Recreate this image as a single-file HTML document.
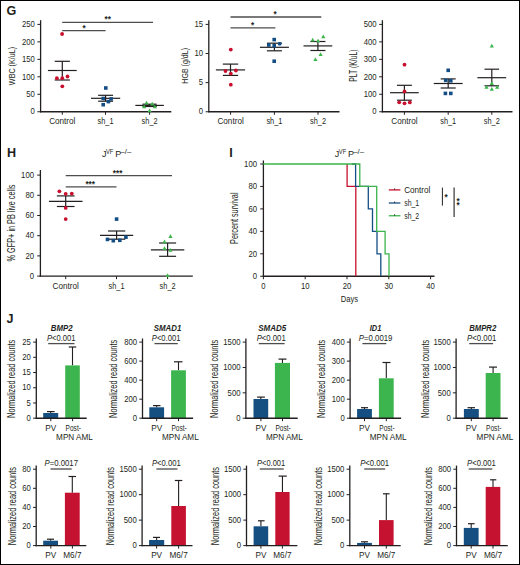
<!DOCTYPE html>
<html><head><meta charset="utf-8"><style>
html,body{margin:0;padding:0;background:#fff;}
svg{display:block;}
text{font-family:"Liberation Sans", sans-serif;fill:#231f20;}
</style></head><body>
<svg width="520" height="565" viewBox="0 0 520 565">
<rect x="0" y="0" width="520" height="565" fill="#fff"/>
<text x="6.50" y="15.10" font-size="12.6" text-anchor="start" font-weight="bold">G</text>
<line x1="40.60" y1="20.20" x2="40.60" y2="112.35" stroke="#231f20" stroke-width="1.3"/>
<line x1="37.40" y1="111.75" x2="40.60" y2="111.75" stroke="#231f20" stroke-width="1.0"/>
<text x="34.80" y="114.47" font-size="8.2" text-anchor="end" textLength="4.3" lengthAdjust="spacingAndGlyphs">0</text>
<line x1="37.40" y1="94.28" x2="40.60" y2="94.28" stroke="#231f20" stroke-width="1.0"/>
<text x="34.80" y="97.00" font-size="8.2" text-anchor="end" textLength="8.6" lengthAdjust="spacingAndGlyphs">50</text>
<line x1="37.40" y1="76.81" x2="40.60" y2="76.81" stroke="#231f20" stroke-width="1.0"/>
<text x="34.80" y="79.53" font-size="8.2" text-anchor="end" textLength="12.9" lengthAdjust="spacingAndGlyphs">100</text>
<line x1="37.40" y1="59.34" x2="40.60" y2="59.34" stroke="#231f20" stroke-width="1.0"/>
<text x="34.80" y="62.06" font-size="8.2" text-anchor="end" textLength="12.9" lengthAdjust="spacingAndGlyphs">150</text>
<line x1="37.40" y1="41.87" x2="40.60" y2="41.87" stroke="#231f20" stroke-width="1.0"/>
<text x="34.80" y="44.59" font-size="8.2" text-anchor="end" textLength="12.9" lengthAdjust="spacingAndGlyphs">200</text>
<line x1="37.40" y1="24.40" x2="40.60" y2="24.40" stroke="#231f20" stroke-width="1.0"/>
<text x="34.80" y="27.12" font-size="8.2" text-anchor="end" textLength="12.9" lengthAdjust="spacingAndGlyphs">250</text>
<line x1="40.00" y1="111.75" x2="171.30" y2="111.75" stroke="#231f20" stroke-width="1.45"/>
<line x1="62.30" y1="111.75" x2="62.30" y2="114.75" stroke="#231f20" stroke-width="1.0"/>
<line x1="105.50" y1="111.75" x2="105.50" y2="114.75" stroke="#231f20" stroke-width="1.0"/>
<line x1="149.60" y1="111.75" x2="149.60" y2="114.75" stroke="#231f20" stroke-width="1.0"/>
<text x="62.30" y="124.30" font-size="8.2" text-anchor="middle" textLength="26.3" lengthAdjust="spacingAndGlyphs">Control</text>
<text x="105.50" y="124.30" font-size="8.2" text-anchor="middle" textLength="16.0" lengthAdjust="spacingAndGlyphs">sh_1</text>
<text x="149.60" y="124.30" font-size="8.2" text-anchor="middle" textLength="16.0" lengthAdjust="spacingAndGlyphs">sh_2</text>
<text x="15.20" y="66.00" font-size="9.6" text-anchor="middle" textLength="38.3" lengthAdjust="spacingAndGlyphs" transform="rotate(-90 15.20 66.00)">WBC (K/uL)</text>
<line x1="62.20" y1="22.35" x2="153.00" y2="22.35" stroke="#4d4d4d" stroke-width="1.3"/>
<text x="107.70" y="22.10" font-size="8.2" text-anchor="middle" font-weight="bold">**</text>
<line x1="62.20" y1="30.60" x2="105.60" y2="30.60" stroke="#4d4d4d" stroke-width="1.3"/>
<text x="84.00" y="30.55" font-size="8.2" text-anchor="middle" font-weight="bold">*</text>
<line x1="47.90" y1="70.50" x2="76.70" y2="70.50" stroke="#231f20" stroke-width="1.2"/>
<line x1="54.70" y1="61.30" x2="69.90" y2="61.30" stroke="#231f20" stroke-width="1.2"/>
<line x1="54.70" y1="80.00" x2="69.90" y2="80.00" stroke="#231f20" stroke-width="1.2"/>
<line x1="62.30" y1="61.30" x2="62.30" y2="80.00" stroke="#231f20" stroke-width="1.2"/>
<circle cx="62.10" cy="34.00" r="1.9" fill="#c8102e"/>
<circle cx="56.90" cy="78.20" r="1.9" fill="#c8102e"/>
<circle cx="62.30" cy="78.20" r="1.9" fill="#c8102e"/>
<circle cx="67.50" cy="76.50" r="1.9" fill="#c8102e"/>
<circle cx="62.30" cy="86.30" r="1.9" fill="#c8102e"/>
<line x1="91.00" y1="98.30" x2="120.20" y2="98.30" stroke="#231f20" stroke-width="1.2"/>
<line x1="98.10" y1="95.30" x2="113.10" y2="95.30" stroke="#231f20" stroke-width="1.2"/>
<line x1="98.10" y1="101.20" x2="113.10" y2="101.20" stroke="#231f20" stroke-width="1.2"/>
<line x1="105.60" y1="95.30" x2="105.60" y2="101.20" stroke="#231f20" stroke-width="1.2"/>
<rect x="104.00" y="86.20" width="3.6" height="3.6" fill="#154e85"/>
<rect x="101.40" y="96.70" width="3.6" height="3.6" fill="#154e85"/>
<rect x="109.30" y="97.10" width="3.6" height="3.6" fill="#154e85"/>
<rect x="106.60" y="99.80" width="3.6" height="3.6" fill="#154e85"/>
<rect x="101.40" y="102.90" width="3.6" height="3.6" fill="#154e85"/>
<line x1="135.35" y1="105.40" x2="163.85" y2="105.40" stroke="#231f20" stroke-width="1.2"/>
<line x1="142.50" y1="104.20" x2="156.70" y2="104.20" stroke="#231f20" stroke-width="1.2"/>
<line x1="142.50" y1="106.50" x2="156.70" y2="106.50" stroke="#231f20" stroke-width="1.2"/>
<line x1="149.60" y1="104.20" x2="149.60" y2="106.50" stroke="#231f20" stroke-width="1.2"/>
<path d="M144.40 104.53L148.60 104.53L146.50 100.87Z" fill="#3cb44b"/>
<path d="M142.10 108.13L146.30 108.13L144.20 104.47Z" fill="#3cb44b"/>
<path d="M150.10 105.53L154.30 105.53L152.20 101.87Z" fill="#3cb44b"/>
<path d="M152.70 108.33L156.90 108.33L154.80 104.67Z" fill="#3cb44b"/>
<path d="M147.50 112.23L151.70 112.23L149.60 108.57Z" fill="#3cb44b"/>
<line x1="208.80" y1="20.20" x2="208.80" y2="112.35" stroke="#231f20" stroke-width="1.3"/>
<line x1="205.60" y1="111.75" x2="208.80" y2="111.75" stroke="#231f20" stroke-width="1.0"/>
<text x="203.00" y="114.47" font-size="8.2" text-anchor="end" textLength="4.3" lengthAdjust="spacingAndGlyphs">0</text>
<line x1="205.60" y1="82.63" x2="208.80" y2="82.63" stroke="#231f20" stroke-width="1.0"/>
<text x="203.00" y="85.35" font-size="8.2" text-anchor="end" textLength="4.3" lengthAdjust="spacingAndGlyphs">5</text>
<line x1="205.60" y1="53.52" x2="208.80" y2="53.52" stroke="#231f20" stroke-width="1.0"/>
<text x="203.00" y="56.24" font-size="8.2" text-anchor="end" textLength="8.6" lengthAdjust="spacingAndGlyphs">10</text>
<line x1="205.60" y1="24.40" x2="208.80" y2="24.40" stroke="#231f20" stroke-width="1.0"/>
<text x="203.00" y="27.12" font-size="8.2" text-anchor="end" textLength="8.6" lengthAdjust="spacingAndGlyphs">15</text>
<line x1="208.20" y1="111.75" x2="339.50" y2="111.75" stroke="#231f20" stroke-width="1.45"/>
<line x1="230.60" y1="111.75" x2="230.60" y2="114.75" stroke="#231f20" stroke-width="1.0"/>
<line x1="274.40" y1="111.75" x2="274.40" y2="114.75" stroke="#231f20" stroke-width="1.0"/>
<line x1="318.00" y1="111.75" x2="318.00" y2="114.75" stroke="#231f20" stroke-width="1.0"/>
<text x="230.60" y="124.30" font-size="8.2" text-anchor="middle" textLength="26.3" lengthAdjust="spacingAndGlyphs">Control</text>
<text x="274.40" y="124.30" font-size="8.2" text-anchor="middle" textLength="16.0" lengthAdjust="spacingAndGlyphs">sh_1</text>
<text x="318.00" y="124.30" font-size="8.2" text-anchor="middle" textLength="16.0" lengthAdjust="spacingAndGlyphs">sh_2</text>
<text x="188.40" y="65.80" font-size="9.8" text-anchor="middle" textLength="35.8" lengthAdjust="spacingAndGlyphs" transform="rotate(-90 188.40 65.80)">HGB (g/dL)</text>
<line x1="230.50" y1="17.00" x2="321.30" y2="17.00" stroke="#4d4d4d" stroke-width="1.3"/>
<text x="275.10" y="16.80" font-size="8.2" text-anchor="middle" font-weight="bold">*</text>
<line x1="230.50" y1="27.90" x2="275.40" y2="27.90" stroke="#4d4d4d" stroke-width="1.3"/>
<text x="252.50" y="27.70" font-size="8.2" text-anchor="middle" font-weight="bold">*</text>
<line x1="215.90" y1="69.90" x2="245.10" y2="69.90" stroke="#231f20" stroke-width="1.2"/>
<line x1="222.85" y1="64.10" x2="238.15" y2="64.10" stroke="#231f20" stroke-width="1.2"/>
<line x1="222.85" y1="75.40" x2="238.15" y2="75.40" stroke="#231f20" stroke-width="1.2"/>
<line x1="230.50" y1="64.10" x2="230.50" y2="75.40" stroke="#231f20" stroke-width="1.2"/>
<circle cx="230.80" cy="49.60" r="1.9" fill="#c8102e"/>
<circle cx="225.50" cy="71.00" r="1.9" fill="#c8102e"/>
<circle cx="235.90" cy="70.50" r="1.9" fill="#c8102e"/>
<circle cx="230.80" cy="73.60" r="1.9" fill="#c8102e"/>
<circle cx="230.80" cy="84.70" r="1.9" fill="#c8102e"/>
<line x1="259.90" y1="47.30" x2="288.90" y2="47.30" stroke="#231f20" stroke-width="1.2"/>
<line x1="266.90" y1="43.20" x2="281.90" y2="43.20" stroke="#231f20" stroke-width="1.2"/>
<line x1="266.90" y1="50.80" x2="281.90" y2="50.80" stroke="#231f20" stroke-width="1.2"/>
<line x1="274.40" y1="43.20" x2="274.40" y2="50.80" stroke="#231f20" stroke-width="1.2"/>
<rect x="272.40" y="37.80" width="3.6" height="3.6" fill="#154e85"/>
<rect x="267.00" y="43.20" width="3.6" height="3.6" fill="#154e85"/>
<rect x="272.40" y="44.00" width="3.6" height="3.6" fill="#154e85"/>
<rect x="272.40" y="59.40" width="3.6" height="3.6" fill="#154e85"/>
<rect x="277.9" y="42.0" width="3.5" height="3.5" rx="1.2" fill="#154e85"/>
<line x1="303.50" y1="45.90" x2="332.30" y2="45.90" stroke="#231f20" stroke-width="1.2"/>
<line x1="310.35" y1="41.50" x2="325.45" y2="41.50" stroke="#231f20" stroke-width="1.2"/>
<line x1="310.35" y1="50.50" x2="325.45" y2="50.50" stroke="#231f20" stroke-width="1.2"/>
<line x1="317.90" y1="41.50" x2="317.90" y2="50.50" stroke="#231f20" stroke-width="1.2"/>
<path d="M310.60 41.53L314.80 41.53L312.70 37.87Z" fill="#3cb44b"/>
<path d="M316.00 42.33L320.20 42.33L318.10 38.67Z" fill="#3cb44b"/>
<path d="M321.20 38.13L325.40 38.13L323.30 34.47Z" fill="#3cb44b"/>
<path d="M318.50 56.03L322.70 56.03L320.60 52.37Z" fill="#3cb44b"/>
<path d="M313.30 61.03L317.50 61.03L315.40 57.37Z" fill="#3cb44b"/>
<line x1="382.40" y1="20.20" x2="382.40" y2="112.35" stroke="#231f20" stroke-width="1.3"/>
<line x1="379.20" y1="111.75" x2="382.40" y2="111.75" stroke="#231f20" stroke-width="1.0"/>
<text x="376.60" y="114.47" font-size="8.2" text-anchor="end" textLength="4.3" lengthAdjust="spacingAndGlyphs">0</text>
<line x1="379.20" y1="94.28" x2="382.40" y2="94.28" stroke="#231f20" stroke-width="1.0"/>
<text x="376.60" y="97.00" font-size="8.2" text-anchor="end" textLength="12.9" lengthAdjust="spacingAndGlyphs">100</text>
<line x1="379.20" y1="76.81" x2="382.40" y2="76.81" stroke="#231f20" stroke-width="1.0"/>
<text x="376.60" y="79.53" font-size="8.2" text-anchor="end" textLength="12.9" lengthAdjust="spacingAndGlyphs">200</text>
<line x1="379.20" y1="59.34" x2="382.40" y2="59.34" stroke="#231f20" stroke-width="1.0"/>
<text x="376.60" y="62.06" font-size="8.2" text-anchor="end" textLength="12.9" lengthAdjust="spacingAndGlyphs">300</text>
<line x1="379.20" y1="41.87" x2="382.40" y2="41.87" stroke="#231f20" stroke-width="1.0"/>
<text x="376.60" y="44.59" font-size="8.2" text-anchor="end" textLength="12.9" lengthAdjust="spacingAndGlyphs">400</text>
<line x1="379.20" y1="24.40" x2="382.40" y2="24.40" stroke="#231f20" stroke-width="1.0"/>
<text x="376.60" y="27.12" font-size="8.2" text-anchor="end" textLength="12.9" lengthAdjust="spacingAndGlyphs">500</text>
<line x1="381.80" y1="111.75" x2="512.50" y2="111.75" stroke="#231f20" stroke-width="1.45"/>
<line x1="404.40" y1="111.75" x2="404.40" y2="114.75" stroke="#231f20" stroke-width="1.0"/>
<line x1="448.20" y1="111.75" x2="448.20" y2="114.75" stroke="#231f20" stroke-width="1.0"/>
<line x1="491.80" y1="111.75" x2="491.80" y2="114.75" stroke="#231f20" stroke-width="1.0"/>
<text x="404.40" y="124.30" font-size="8.2" text-anchor="middle" textLength="26.3" lengthAdjust="spacingAndGlyphs">Control</text>
<text x="448.20" y="124.30" font-size="8.2" text-anchor="middle" textLength="16.0" lengthAdjust="spacingAndGlyphs">sh_1</text>
<text x="491.80" y="124.30" font-size="8.2" text-anchor="middle" textLength="16.0" lengthAdjust="spacingAndGlyphs">sh_2</text>
<text x="356.60" y="65.70" font-size="10.0" text-anchor="middle" textLength="32.3" lengthAdjust="spacingAndGlyphs" transform="rotate(-90 356.60 65.70)">PLT (K/uL)</text>
<line x1="390.05" y1="92.70" x2="418.75" y2="92.70" stroke="#231f20" stroke-width="1.2"/>
<line x1="396.95" y1="85.30" x2="411.85" y2="85.30" stroke="#231f20" stroke-width="1.2"/>
<line x1="396.95" y1="100.20" x2="411.85" y2="100.20" stroke="#231f20" stroke-width="1.2"/>
<line x1="404.40" y1="85.30" x2="404.40" y2="100.20" stroke="#231f20" stroke-width="1.2"/>
<circle cx="404.50" cy="64.70" r="1.9" fill="#c8102e"/>
<circle cx="404.50" cy="91.40" r="1.9" fill="#c8102e"/>
<circle cx="399.20" cy="102.30" r="1.9" fill="#c8102e"/>
<circle cx="404.50" cy="103.30" r="1.9" fill="#c8102e"/>
<circle cx="409.80" cy="102.40" r="1.9" fill="#c8102e"/>
<line x1="433.80" y1="83.50" x2="462.60" y2="83.50" stroke="#231f20" stroke-width="1.2"/>
<line x1="440.70" y1="78.90" x2="455.70" y2="78.90" stroke="#231f20" stroke-width="1.2"/>
<line x1="440.70" y1="88.00" x2="455.70" y2="88.00" stroke="#231f20" stroke-width="1.2"/>
<line x1="448.20" y1="78.90" x2="448.20" y2="88.00" stroke="#231f20" stroke-width="1.2"/>
<rect x="446.40" y="68.50" width="3.6" height="3.6" fill="#154e85"/>
<rect x="443.90" y="78.50" width="3.6" height="3.6" fill="#154e85"/>
<rect x="449.00" y="79.00" width="3.6" height="3.6" fill="#154e85"/>
<rect x="443.60" y="91.60" width="3.6" height="3.6" fill="#154e85"/>
<rect x="449.00" y="91.60" width="3.6" height="3.6" fill="#154e85"/>
<line x1="477.40" y1="77.70" x2="506.20" y2="77.70" stroke="#231f20" stroke-width="1.2"/>
<line x1="484.50" y1="69.20" x2="499.10" y2="69.20" stroke="#231f20" stroke-width="1.2"/>
<line x1="484.50" y1="85.80" x2="499.10" y2="85.80" stroke="#231f20" stroke-width="1.2"/>
<line x1="491.80" y1="69.20" x2="491.80" y2="85.80" stroke="#231f20" stroke-width="1.2"/>
<path d="M489.70 47.53L493.90 47.53L491.80 43.87Z" fill="#3cb44b"/>
<path d="M489.70 84.93L493.90 84.93L491.80 81.27Z" fill="#3cb44b"/>
<path d="M484.40 88.73L488.60 88.73L486.50 85.07Z" fill="#3cb44b"/>
<path d="M495.10 88.73L499.30 88.73L497.20 85.07Z" fill="#3cb44b"/>
<path d="M489.70 90.73L493.90 90.73L491.80 87.07Z" fill="#3cb44b"/>
<text x="6.90" y="156.60" font-size="12.6" text-anchor="start" font-weight="bold">H</text>
<line x1="40.40" y1="170.00" x2="40.40" y2="276.70" stroke="#231f20" stroke-width="1.3"/>
<line x1="37.20" y1="276.10" x2="40.40" y2="276.10" stroke="#231f20" stroke-width="1.0"/>
<text x="34.00" y="278.82" font-size="8.2" text-anchor="end" textLength="4.3" lengthAdjust="spacingAndGlyphs">0</text>
<line x1="37.20" y1="255.90" x2="40.40" y2="255.90" stroke="#231f20" stroke-width="1.0"/>
<text x="34.00" y="258.62" font-size="8.2" text-anchor="end" textLength="8.6" lengthAdjust="spacingAndGlyphs">20</text>
<line x1="37.20" y1="235.70" x2="40.40" y2="235.70" stroke="#231f20" stroke-width="1.0"/>
<text x="34.00" y="238.42" font-size="8.2" text-anchor="end" textLength="8.6" lengthAdjust="spacingAndGlyphs">40</text>
<line x1="37.20" y1="215.50" x2="40.40" y2="215.50" stroke="#231f20" stroke-width="1.0"/>
<text x="34.00" y="218.22" font-size="8.2" text-anchor="end" textLength="8.6" lengthAdjust="spacingAndGlyphs">60</text>
<line x1="37.20" y1="195.30" x2="40.40" y2="195.30" stroke="#231f20" stroke-width="1.0"/>
<text x="34.00" y="198.02" font-size="8.2" text-anchor="end" textLength="8.6" lengthAdjust="spacingAndGlyphs">80</text>
<line x1="37.20" y1="175.10" x2="40.40" y2="175.10" stroke="#231f20" stroke-width="1.0"/>
<text x="34.00" y="177.82" font-size="8.2" text-anchor="end" textLength="12.9" lengthAdjust="spacingAndGlyphs">100</text>
<line x1="39.80" y1="276.10" x2="192.80" y2="276.10" stroke="#231f20" stroke-width="1.45"/>
<line x1="65.70" y1="276.10" x2="65.70" y2="279.10" stroke="#231f20" stroke-width="1.0"/>
<line x1="116.50" y1="276.10" x2="116.50" y2="279.10" stroke="#231f20" stroke-width="1.0"/>
<line x1="167.60" y1="276.10" x2="167.60" y2="279.10" stroke="#231f20" stroke-width="1.0"/>
<text x="65.70" y="288.60" font-size="8.2" text-anchor="middle" textLength="26.3" lengthAdjust="spacingAndGlyphs">Control</text>
<text x="116.50" y="288.60" font-size="8.2" text-anchor="middle" textLength="16.0" lengthAdjust="spacingAndGlyphs">sh_1</text>
<text x="167.60" y="288.60" font-size="8.2" text-anchor="middle" textLength="16.0" lengthAdjust="spacingAndGlyphs">sh_2</text>
<text x="15.00" y="223.00" font-size="10.2" text-anchor="middle" textLength="76.8" lengthAdjust="spacingAndGlyphs" transform="rotate(-90 15.00 223.00)">% GFP+ in PB live cells</text>
<text x="102.00" y="156.80" font-size="9.0" text-anchor="start">J</text>
<text x="106.00" y="153.50" font-size="7.0" text-anchor="start" textLength="7.4" lengthAdjust="spacingAndGlyphs">VF</text>
<text x="115.30" y="156.80" font-size="9.0" text-anchor="start">P</text>
<text x="120.50" y="154.20" font-size="7.0" text-anchor="start" textLength="10.8" lengthAdjust="spacingAndGlyphs">–/–</text>
<line x1="65.70" y1="175.70" x2="172.00" y2="175.70" stroke="#4d4d4d" stroke-width="1.3"/>
<text x="117.60" y="175.50" font-size="8.2" text-anchor="middle" font-weight="bold">***</text>
<line x1="65.70" y1="186.90" x2="116.50" y2="186.90" stroke="#4d4d4d" stroke-width="1.3"/>
<text x="90.20" y="186.60" font-size="8.2" text-anchor="middle" font-weight="bold">***</text>
<line x1="48.90" y1="201.30" x2="82.50" y2="201.30" stroke="#231f20" stroke-width="1.2"/>
<line x1="56.85" y1="195.90" x2="74.55" y2="195.90" stroke="#231f20" stroke-width="1.2"/>
<line x1="56.85" y1="206.50" x2="74.55" y2="206.50" stroke="#231f20" stroke-width="1.2"/>
<line x1="65.70" y1="195.90" x2="65.70" y2="206.50" stroke="#231f20" stroke-width="1.2"/>
<circle cx="59.40" cy="191.30" r="1.9" fill="#c8102e"/>
<circle cx="65.70" cy="193.80" r="1.9" fill="#c8102e"/>
<circle cx="71.80" cy="193.60" r="1.9" fill="#c8102e"/>
<circle cx="65.70" cy="207.90" r="1.9" fill="#c8102e"/>
<circle cx="65.70" cy="219.10" r="1.9" fill="#c8102e"/>
<line x1="100.00" y1="235.30" x2="133.20" y2="235.30" stroke="#231f20" stroke-width="1.2"/>
<line x1="107.95" y1="231.00" x2="125.25" y2="231.00" stroke="#231f20" stroke-width="1.2"/>
<line x1="107.95" y1="239.20" x2="125.25" y2="239.20" stroke="#231f20" stroke-width="1.2"/>
<line x1="116.60" y1="231.00" x2="116.60" y2="239.20" stroke="#231f20" stroke-width="1.2"/>
<rect x="114.80" y="217.30" width="3.6" height="3.6" fill="#154e85"/>
<rect x="105.70" y="237.60" width="3.6" height="3.6" fill="#154e85"/>
<rect x="111.50" y="238.90" width="3.6" height="3.6" fill="#154e85"/>
<rect x="118.00" y="238.50" width="3.6" height="3.6" fill="#154e85"/>
<rect x="124.10" y="235.40" width="3.6" height="3.6" fill="#154e85"/>
<line x1="150.90" y1="249.80" x2="184.30" y2="249.80" stroke="#231f20" stroke-width="1.2"/>
<line x1="159.10" y1="243.00" x2="176.10" y2="243.00" stroke="#231f20" stroke-width="1.2"/>
<line x1="159.10" y1="256.30" x2="176.10" y2="256.30" stroke="#231f20" stroke-width="1.2"/>
<line x1="167.60" y1="243.00" x2="167.60" y2="256.30" stroke="#231f20" stroke-width="1.2"/>
<path d="M168.40 238.03L172.60 238.03L170.50 234.37Z" fill="#3cb44b"/>
<path d="M162.40 243.13L166.60 243.13L164.50 239.47Z" fill="#3cb44b"/>
<path d="M162.40 250.03L166.60 250.03L164.50 246.37Z" fill="#3cb44b"/>
<path d="M168.40 251.63L172.60 251.63L170.50 247.97Z" fill="#3cb44b"/>
<path d="M165.50 276.93L169.70 276.93L167.60 273.27Z" fill="#3cb44b"/>
<text x="229.20" y="156.60" font-size="12.6" text-anchor="start" font-weight="bold">I</text>
<line x1="263.40" y1="160.50" x2="263.40" y2="276.85" stroke="#231f20" stroke-width="1.3"/>
<line x1="260.20" y1="276.25" x2="263.40" y2="276.25" stroke="#231f20" stroke-width="1.0"/>
<text x="257.00" y="278.97" font-size="8.2" text-anchor="end" textLength="4.3" lengthAdjust="spacingAndGlyphs">0</text>
<line x1="260.20" y1="253.80" x2="263.40" y2="253.80" stroke="#231f20" stroke-width="1.0"/>
<text x="257.00" y="256.52" font-size="8.2" text-anchor="end" textLength="8.6" lengthAdjust="spacingAndGlyphs">20</text>
<line x1="260.20" y1="231.35" x2="263.40" y2="231.35" stroke="#231f20" stroke-width="1.0"/>
<text x="257.00" y="234.07" font-size="8.2" text-anchor="end" textLength="8.6" lengthAdjust="spacingAndGlyphs">40</text>
<line x1="260.20" y1="208.90" x2="263.40" y2="208.90" stroke="#231f20" stroke-width="1.0"/>
<text x="257.00" y="211.62" font-size="8.2" text-anchor="end" textLength="8.6" lengthAdjust="spacingAndGlyphs">60</text>
<line x1="260.20" y1="186.45" x2="263.40" y2="186.45" stroke="#231f20" stroke-width="1.0"/>
<text x="257.00" y="189.17" font-size="8.2" text-anchor="end" textLength="8.6" lengthAdjust="spacingAndGlyphs">80</text>
<line x1="260.20" y1="164.00" x2="263.40" y2="164.00" stroke="#231f20" stroke-width="1.0"/>
<text x="257.00" y="166.72" font-size="8.2" text-anchor="end" textLength="12.9" lengthAdjust="spacingAndGlyphs">100</text>
<line x1="262.80" y1="276.25" x2="434.50" y2="276.25" stroke="#231f20" stroke-width="1.45"/>
<line x1="263.40" y1="276.25" x2="263.40" y2="279.25" stroke="#231f20" stroke-width="1.0"/>
<line x1="305.20" y1="276.25" x2="305.20" y2="279.25" stroke="#231f20" stroke-width="1.0"/>
<line x1="347.00" y1="276.25" x2="347.00" y2="279.25" stroke="#231f20" stroke-width="1.0"/>
<line x1="388.80" y1="276.25" x2="388.80" y2="279.25" stroke="#231f20" stroke-width="1.0"/>
<line x1="430.60" y1="276.25" x2="430.60" y2="279.25" stroke="#231f20" stroke-width="1.0"/>
<text x="263.40" y="289.00" font-size="8.2" text-anchor="middle" textLength="4.3" lengthAdjust="spacingAndGlyphs">0</text>
<text x="305.20" y="289.00" font-size="8.2" text-anchor="middle" textLength="8.6" lengthAdjust="spacingAndGlyphs">10</text>
<text x="347.00" y="289.00" font-size="8.2" text-anchor="middle" textLength="8.6" lengthAdjust="spacingAndGlyphs">20</text>
<text x="388.80" y="289.00" font-size="8.2" text-anchor="middle" textLength="8.6" lengthAdjust="spacingAndGlyphs">30</text>
<text x="430.60" y="289.00" font-size="8.2" text-anchor="middle" textLength="8.6" lengthAdjust="spacingAndGlyphs">40</text>
<text x="349.40" y="301.50" font-size="8.2" text-anchor="middle" textLength="17.3" lengthAdjust="spacingAndGlyphs">Days</text>
<text x="237.80" y="218.20" font-size="10.0" text-anchor="middle" textLength="51.4" lengthAdjust="spacingAndGlyphs" transform="rotate(-90 237.80 218.20)">Percent survival</text>
<text x="334.80" y="156.80" font-size="9.0" text-anchor="start">J</text>
<text x="338.80" y="153.50" font-size="7.0" text-anchor="start" textLength="7.4" lengthAdjust="spacingAndGlyphs">VF</text>
<text x="348.10" y="156.80" font-size="9.0" text-anchor="start">P</text>
<text x="353.30" y="154.20" font-size="7.0" text-anchor="start" textLength="10.8" lengthAdjust="spacingAndGlyphs">–/–</text>
<path d="M347.10 164.00 L347.10 186.45 L355.80 186.45 L355.80 276.25" fill="none" stroke="#c8102e" stroke-width="1.3"/>
<path d="M352.00 164.00 L355.60 164.00 L355.60 186.45 L368.30 186.45 L368.30 208.90 L372.50 208.90 L372.50 231.35 L377.00 231.35 L377.00 253.80 L380.80 253.80 L380.80 276.25" fill="none" stroke="#154e85" stroke-width="1.3"/>
<path d="M263.40 164.00 L359.80 164.00 L359.80 186.45 L376.70 186.45 L376.70 231.35 L385.10 231.35 L385.10 253.80 L389.00 253.80 L389.00 276.25" fill="none" stroke="#3cb44b" stroke-width="1.3"/>
<line x1="388.80" y1="189.90" x2="400.40" y2="189.90" stroke="#c8102e" stroke-width="1.3"/>
<line x1="394.60" y1="188.30" x2="394.60" y2="189.90" stroke="#231f20" stroke-width="0.8"/>
<text x="404.20" y="192.85" font-size="8.2" text-anchor="start" textLength="26.2" lengthAdjust="spacingAndGlyphs">Control</text>
<line x1="388.80" y1="203.00" x2="400.40" y2="203.00" stroke="#154e85" stroke-width="1.3"/>
<line x1="394.60" y1="201.40" x2="394.60" y2="203.00" stroke="#231f20" stroke-width="0.8"/>
<text x="404.20" y="205.95" font-size="8.2" text-anchor="start" textLength="15.0" lengthAdjust="spacingAndGlyphs">sh_1</text>
<line x1="388.80" y1="215.75" x2="400.40" y2="215.75" stroke="#3cb44b" stroke-width="1.3"/>
<line x1="394.60" y1="214.15" x2="394.60" y2="215.75" stroke="#231f20" stroke-width="0.8"/>
<text x="404.20" y="218.70" font-size="8.2" text-anchor="start" textLength="15.0" lengthAdjust="spacingAndGlyphs">sh_2</text>
<line x1="442.40" y1="187.60" x2="442.40" y2="205.60" stroke="#231f20" stroke-width="1.0"/>
<text x="446.20" y="200.20" font-size="8.2" text-anchor="middle" font-weight="bold">*</text>
<line x1="454.10" y1="187.60" x2="454.10" y2="217.00" stroke="#231f20" stroke-width="1.1"/>
<text x="458.20" y="204.40" font-size="8.2" text-anchor="middle" font-weight="bold">*</text>
<text x="458.20" y="208.10" font-size="8.2" text-anchor="middle" font-weight="bold">*</text>
<text x="6.60" y="322.50" font-size="12.6" text-anchor="start" font-weight="bold">J</text>
<line x1="50.70" y1="411.60" x2="50.70" y2="413.00" stroke="#231f20" stroke-width="1.1"/>
<line x1="47.00" y1="411.60" x2="54.60" y2="411.60" stroke="#231f20" stroke-width="1.2"/>
<rect x="43.20" y="413.00" width="15.00" height="5.20" fill="#154e80"/>
<line x1="72.50" y1="347.00" x2="72.50" y2="365.40" stroke="#231f20" stroke-width="1.1"/>
<line x1="68.75" y1="347.00" x2="76.20" y2="347.00" stroke="#231f20" stroke-width="1.2"/>
<rect x="65.20" y="365.40" width="14.60" height="52.80" fill="#3db54f"/>
<line x1="36.30" y1="338.50" x2="36.30" y2="418.80" stroke="#231f20" stroke-width="1.3"/>
<line x1="33.10" y1="418.20" x2="36.30" y2="418.20" stroke="#231f20" stroke-width="1.0"/>
<text x="30.90" y="420.92" font-size="8.2" text-anchor="end" textLength="4.3" lengthAdjust="spacingAndGlyphs">0</text>
<line x1="33.10" y1="402.98" x2="36.30" y2="402.98" stroke="#231f20" stroke-width="1.0"/>
<text x="30.90" y="405.70" font-size="8.2" text-anchor="end" textLength="4.3" lengthAdjust="spacingAndGlyphs">5</text>
<line x1="33.10" y1="387.76" x2="36.30" y2="387.76" stroke="#231f20" stroke-width="1.0"/>
<text x="30.90" y="390.48" font-size="8.2" text-anchor="end" textLength="8.6" lengthAdjust="spacingAndGlyphs">10</text>
<line x1="33.10" y1="372.54" x2="36.30" y2="372.54" stroke="#231f20" stroke-width="1.0"/>
<text x="30.90" y="375.26" font-size="8.2" text-anchor="end" textLength="8.6" lengthAdjust="spacingAndGlyphs">15</text>
<line x1="33.10" y1="357.32" x2="36.30" y2="357.32" stroke="#231f20" stroke-width="1.0"/>
<text x="30.90" y="360.04" font-size="8.2" text-anchor="end" textLength="8.6" lengthAdjust="spacingAndGlyphs">20</text>
<line x1="33.10" y1="342.10" x2="36.30" y2="342.10" stroke="#231f20" stroke-width="1.0"/>
<text x="30.90" y="344.82" font-size="8.2" text-anchor="end" textLength="8.6" lengthAdjust="spacingAndGlyphs">25</text>
<line x1="35.70" y1="418.20" x2="86.70" y2="418.20" stroke="#231f20" stroke-width="1.45"/>
<line x1="50.80" y1="418.20" x2="50.80" y2="421.20" stroke="#231f20" stroke-width="1.0"/>
<line x1="72.60" y1="418.20" x2="72.60" y2="421.20" stroke="#231f20" stroke-width="1.0"/>
<text x="15.10" y="378.85" font-size="10.0" text-anchor="middle" textLength="78.2" lengthAdjust="spacingAndGlyphs" transform="rotate(-90 15.10 378.85)">Normalized read counts</text>
<text x="61.70" y="331.00" font-size="8.6" text-anchor="middle" font-weight="bold" font-style="italic" textLength="21.8" lengthAdjust="spacingAndGlyphs">BMP2</text>
<text x="47.00" y="341.20" font-size="8.9" textLength="28.50" lengthAdjust="spacingAndGlyphs"><tspan font-style="italic">P</tspan>&lt;0.001</text>
<line x1="48.20" y1="343.60" x2="74.50" y2="343.60" stroke="#4d4d4d" stroke-width="1.3"/>
<text x="50.80" y="430.80" font-size="8.2" text-anchor="middle">PV</text>
<text x="73.25" y="430.80" font-size="8.2" text-anchor="middle" textLength="15.3" lengthAdjust="spacingAndGlyphs">Post-</text>
<text x="74.45" y="440.30" font-size="8.2" text-anchor="middle" textLength="36.7" lengthAdjust="spacingAndGlyphs">MPN AML</text>
<line x1="156.70" y1="405.60" x2="156.70" y2="407.30" stroke="#231f20" stroke-width="1.1"/>
<line x1="153.00" y1="405.60" x2="160.50" y2="405.60" stroke="#231f20" stroke-width="1.2"/>
<rect x="149.30" y="407.30" width="14.80" height="10.90" fill="#154e80"/>
<line x1="178.50" y1="361.80" x2="178.50" y2="370.30" stroke="#231f20" stroke-width="1.1"/>
<line x1="174.00" y1="361.80" x2="182.50" y2="361.80" stroke="#231f20" stroke-width="1.2"/>
<rect x="171.10" y="370.30" width="14.80" height="47.90" fill="#3db54f"/>
<line x1="142.50" y1="338.50" x2="142.50" y2="418.80" stroke="#231f20" stroke-width="1.3"/>
<line x1="139.30" y1="418.20" x2="142.50" y2="418.20" stroke="#231f20" stroke-width="1.0"/>
<text x="137.10" y="420.92" font-size="8.2" text-anchor="end" textLength="4.3" lengthAdjust="spacingAndGlyphs">0</text>
<line x1="139.30" y1="399.18" x2="142.50" y2="399.18" stroke="#231f20" stroke-width="1.0"/>
<text x="137.10" y="401.90" font-size="8.2" text-anchor="end" textLength="12.9" lengthAdjust="spacingAndGlyphs">200</text>
<line x1="139.30" y1="380.15" x2="142.50" y2="380.15" stroke="#231f20" stroke-width="1.0"/>
<text x="137.10" y="382.87" font-size="8.2" text-anchor="end" textLength="12.9" lengthAdjust="spacingAndGlyphs">400</text>
<line x1="139.30" y1="361.12" x2="142.50" y2="361.12" stroke="#231f20" stroke-width="1.0"/>
<text x="137.10" y="363.85" font-size="8.2" text-anchor="end" textLength="12.9" lengthAdjust="spacingAndGlyphs">600</text>
<line x1="139.30" y1="342.10" x2="142.50" y2="342.10" stroke="#231f20" stroke-width="1.0"/>
<text x="137.10" y="344.82" font-size="8.2" text-anchor="end" textLength="12.9" lengthAdjust="spacingAndGlyphs">800</text>
<line x1="141.90" y1="418.20" x2="193.10" y2="418.20" stroke="#231f20" stroke-width="1.45"/>
<line x1="156.70" y1="418.20" x2="156.70" y2="421.20" stroke="#231f20" stroke-width="1.0"/>
<line x1="178.50" y1="418.20" x2="178.50" y2="421.20" stroke="#231f20" stroke-width="1.0"/>
<text x="117.40" y="378.85" font-size="10.0" text-anchor="middle" textLength="78.2" lengthAdjust="spacingAndGlyphs" transform="rotate(-90 117.40 378.85)">Normalized read counts</text>
<text x="167.60" y="331.00" font-size="8.6" text-anchor="middle" font-weight="bold" font-style="italic" textLength="27.5" lengthAdjust="spacingAndGlyphs">SMAD1</text>
<text x="151.80" y="341.20" font-size="8.9" textLength="28.60" lengthAdjust="spacingAndGlyphs"><tspan font-style="italic">P</tspan>&lt;0.001</text>
<line x1="154.50" y1="343.60" x2="177.80" y2="343.60" stroke="#4d4d4d" stroke-width="1.3"/>
<text x="156.70" y="430.80" font-size="8.2" text-anchor="middle">PV</text>
<text x="179.15" y="430.80" font-size="8.2" text-anchor="middle" textLength="15.3" lengthAdjust="spacingAndGlyphs">Post-</text>
<text x="180.35" y="440.30" font-size="8.2" text-anchor="middle" textLength="36.7" lengthAdjust="spacingAndGlyphs">MPN AML</text>
<line x1="260.85" y1="397.10" x2="260.85" y2="399.00" stroke="#231f20" stroke-width="1.1"/>
<line x1="257.10" y1="397.10" x2="264.90" y2="397.10" stroke="#231f20" stroke-width="1.2"/>
<rect x="253.50" y="399.00" width="14.70" height="19.20" fill="#154e80"/>
<line x1="282.45" y1="359.10" x2="282.45" y2="362.90" stroke="#231f20" stroke-width="1.1"/>
<line x1="278.50" y1="359.10" x2="286.50" y2="359.10" stroke="#231f20" stroke-width="1.2"/>
<rect x="274.90" y="362.90" width="15.10" height="55.30" fill="#3db54f"/>
<line x1="245.90" y1="338.50" x2="245.90" y2="418.80" stroke="#231f20" stroke-width="1.3"/>
<line x1="242.70" y1="418.20" x2="245.90" y2="418.20" stroke="#231f20" stroke-width="1.0"/>
<text x="240.50" y="420.92" font-size="8.2" text-anchor="end" textLength="4.3" lengthAdjust="spacingAndGlyphs">0</text>
<line x1="242.70" y1="392.83" x2="245.90" y2="392.83" stroke="#231f20" stroke-width="1.0"/>
<text x="240.50" y="395.55" font-size="8.2" text-anchor="end" textLength="12.9" lengthAdjust="spacingAndGlyphs">500</text>
<line x1="242.70" y1="367.47" x2="245.90" y2="367.47" stroke="#231f20" stroke-width="1.0"/>
<text x="240.50" y="370.19" font-size="8.2" text-anchor="end" textLength="17.2" lengthAdjust="spacingAndGlyphs">1000</text>
<line x1="242.70" y1="342.10" x2="245.90" y2="342.10" stroke="#231f20" stroke-width="1.0"/>
<text x="240.50" y="344.82" font-size="8.2" text-anchor="end" textLength="17.2" lengthAdjust="spacingAndGlyphs">1500</text>
<line x1="245.30" y1="418.20" x2="297.70" y2="418.20" stroke="#231f20" stroke-width="1.45"/>
<line x1="260.90" y1="418.20" x2="260.90" y2="421.20" stroke="#231f20" stroke-width="1.0"/>
<line x1="282.50" y1="418.20" x2="282.50" y2="421.20" stroke="#231f20" stroke-width="1.0"/>
<text x="218.00" y="378.85" font-size="10.0" text-anchor="middle" textLength="78.2" lengthAdjust="spacingAndGlyphs" transform="rotate(-90 218.00 378.85)">Normalized read counts</text>
<text x="272.20" y="331.00" font-size="8.6" text-anchor="middle" font-weight="bold" font-style="italic" textLength="28.1" lengthAdjust="spacingAndGlyphs">SMAD5</text>
<text x="256.70" y="341.20" font-size="8.9" textLength="29.00" lengthAdjust="spacingAndGlyphs"><tspan font-style="italic">P</tspan>&lt;0.001</text>
<line x1="258.80" y1="343.60" x2="284.60" y2="343.60" stroke="#4d4d4d" stroke-width="1.3"/>
<text x="260.90" y="430.80" font-size="8.2" text-anchor="middle">PV</text>
<text x="283.15" y="430.80" font-size="8.2" text-anchor="middle" textLength="15.3" lengthAdjust="spacingAndGlyphs">Post-</text>
<text x="284.35" y="440.30" font-size="8.2" text-anchor="middle" textLength="36.7" lengthAdjust="spacingAndGlyphs">MPN AML</text>
<line x1="364.50" y1="407.70" x2="364.50" y2="409.00" stroke="#231f20" stroke-width="1.1"/>
<line x1="361.00" y1="407.70" x2="368.00" y2="407.70" stroke="#231f20" stroke-width="1.2"/>
<rect x="357.10" y="409.00" width="14.80" height="9.20" fill="#154e80"/>
<line x1="386.30" y1="362.50" x2="386.30" y2="378.30" stroke="#231f20" stroke-width="1.1"/>
<line x1="382.50" y1="362.50" x2="390.50" y2="362.50" stroke="#231f20" stroke-width="1.2"/>
<rect x="378.90" y="378.30" width="14.80" height="39.90" fill="#3db54f"/>
<line x1="350.10" y1="338.50" x2="350.10" y2="418.80" stroke="#231f20" stroke-width="1.3"/>
<line x1="346.90" y1="418.20" x2="350.10" y2="418.20" stroke="#231f20" stroke-width="1.0"/>
<text x="344.70" y="420.92" font-size="8.2" text-anchor="end" textLength="4.3" lengthAdjust="spacingAndGlyphs">0</text>
<line x1="346.90" y1="399.18" x2="350.10" y2="399.18" stroke="#231f20" stroke-width="1.0"/>
<text x="344.70" y="401.90" font-size="8.2" text-anchor="end" textLength="12.9" lengthAdjust="spacingAndGlyphs">100</text>
<line x1="346.90" y1="380.15" x2="350.10" y2="380.15" stroke="#231f20" stroke-width="1.0"/>
<text x="344.70" y="382.87" font-size="8.2" text-anchor="end" textLength="12.9" lengthAdjust="spacingAndGlyphs">200</text>
<line x1="346.90" y1="361.12" x2="350.10" y2="361.12" stroke="#231f20" stroke-width="1.0"/>
<text x="344.70" y="363.85" font-size="8.2" text-anchor="end" textLength="12.9" lengthAdjust="spacingAndGlyphs">300</text>
<line x1="346.90" y1="342.10" x2="350.10" y2="342.10" stroke="#231f20" stroke-width="1.0"/>
<text x="344.70" y="344.82" font-size="8.2" text-anchor="end" textLength="12.9" lengthAdjust="spacingAndGlyphs">400</text>
<line x1="349.50" y1="418.20" x2="401.10" y2="418.20" stroke="#231f20" stroke-width="1.45"/>
<line x1="364.50" y1="418.20" x2="364.50" y2="421.20" stroke="#231f20" stroke-width="1.0"/>
<line x1="386.30" y1="418.20" x2="386.30" y2="421.20" stroke="#231f20" stroke-width="1.0"/>
<text x="324.80" y="378.85" font-size="10.0" text-anchor="middle" textLength="78.2" lengthAdjust="spacingAndGlyphs" transform="rotate(-90 324.80 378.85)">Normalized read counts</text>
<text x="375.60" y="331.00" font-size="8.6" text-anchor="middle" font-weight="bold" font-style="italic" textLength="11.6" lengthAdjust="spacingAndGlyphs">ID1</text>
<text x="358.80" y="341.20" font-size="8.9" textLength="33.60" lengthAdjust="spacingAndGlyphs"><tspan font-style="italic">P</tspan>=0.0019</text>
<line x1="362.40" y1="343.60" x2="386.30" y2="343.60" stroke="#4d4d4d" stroke-width="1.3"/>
<text x="364.50" y="430.80" font-size="8.2" text-anchor="middle">PV</text>
<text x="386.95" y="430.80" font-size="8.2" text-anchor="middle" textLength="15.3" lengthAdjust="spacingAndGlyphs">Post-</text>
<text x="388.15" y="440.30" font-size="8.2" text-anchor="middle" textLength="36.7" lengthAdjust="spacingAndGlyphs">MPN AML</text>
<line x1="471.35" y1="407.70" x2="471.35" y2="409.00" stroke="#231f20" stroke-width="1.1"/>
<line x1="467.50" y1="407.70" x2="475.00" y2="407.70" stroke="#231f20" stroke-width="1.2"/>
<rect x="463.90" y="409.00" width="14.90" height="9.20" fill="#154e80"/>
<line x1="493.10" y1="367.10" x2="493.10" y2="373.00" stroke="#231f20" stroke-width="1.1"/>
<line x1="489.00" y1="367.10" x2="497.00" y2="367.10" stroke="#231f20" stroke-width="1.2"/>
<rect x="485.70" y="373.00" width="14.80" height="45.20" fill="#3db54f"/>
<line x1="456.10" y1="338.50" x2="456.10" y2="418.80" stroke="#231f20" stroke-width="1.3"/>
<line x1="452.90" y1="418.20" x2="456.10" y2="418.20" stroke="#231f20" stroke-width="1.0"/>
<text x="450.70" y="420.92" font-size="8.2" text-anchor="end" textLength="4.3" lengthAdjust="spacingAndGlyphs">0</text>
<line x1="452.90" y1="392.83" x2="456.10" y2="392.83" stroke="#231f20" stroke-width="1.0"/>
<text x="450.70" y="395.55" font-size="8.2" text-anchor="end" textLength="12.9" lengthAdjust="spacingAndGlyphs">500</text>
<line x1="452.90" y1="367.47" x2="456.10" y2="367.47" stroke="#231f20" stroke-width="1.0"/>
<text x="450.70" y="370.19" font-size="8.2" text-anchor="end" textLength="17.2" lengthAdjust="spacingAndGlyphs">1000</text>
<line x1="452.90" y1="342.10" x2="456.10" y2="342.10" stroke="#231f20" stroke-width="1.0"/>
<text x="450.70" y="344.82" font-size="8.2" text-anchor="end" textLength="17.2" lengthAdjust="spacingAndGlyphs">1500</text>
<line x1="455.50" y1="418.20" x2="507.70" y2="418.20" stroke="#231f20" stroke-width="1.45"/>
<line x1="471.30" y1="418.20" x2="471.30" y2="421.20" stroke="#231f20" stroke-width="1.0"/>
<line x1="493.10" y1="418.20" x2="493.10" y2="421.20" stroke="#231f20" stroke-width="1.0"/>
<text x="428.80" y="378.85" font-size="10.0" text-anchor="middle" textLength="78.2" lengthAdjust="spacingAndGlyphs" transform="rotate(-90 428.80 378.85)">Normalized read counts</text>
<text x="482.70" y="331.00" font-size="8.6" text-anchor="middle" font-weight="bold" font-style="italic" textLength="27.1" lengthAdjust="spacingAndGlyphs">BMPR2</text>
<text x="467.10" y="341.20" font-size="8.9" textLength="29.20" lengthAdjust="spacingAndGlyphs"><tspan font-style="italic">P</tspan>&lt;0.001</text>
<line x1="469.20" y1="343.60" x2="493.10" y2="343.60" stroke="#4d4d4d" stroke-width="1.3"/>
<text x="471.30" y="430.80" font-size="8.2" text-anchor="middle">PV</text>
<text x="493.75" y="430.80" font-size="8.2" text-anchor="middle" textLength="15.3" lengthAdjust="spacingAndGlyphs">Post-</text>
<text x="494.95" y="440.30" font-size="8.2" text-anchor="middle" textLength="36.7" lengthAdjust="spacingAndGlyphs">MPN AML</text>
<line x1="50.60" y1="539.20" x2="50.60" y2="540.70" stroke="#231f20" stroke-width="1.1"/>
<line x1="47.00" y1="539.20" x2="54.00" y2="539.20" stroke="#231f20" stroke-width="1.2"/>
<rect x="43.20" y="540.70" width="14.80" height="4.90" fill="#154e80"/>
<line x1="72.30" y1="476.50" x2="72.30" y2="492.70" stroke="#231f20" stroke-width="1.1"/>
<line x1="68.50" y1="476.50" x2="76.00" y2="476.50" stroke="#231f20" stroke-width="1.2"/>
<rect x="64.90" y="492.70" width="14.80" height="52.90" fill="#c41230"/>
<line x1="36.20" y1="465.60" x2="36.20" y2="546.20" stroke="#231f20" stroke-width="1.3"/>
<line x1="33.00" y1="545.60" x2="36.20" y2="545.60" stroke="#231f20" stroke-width="1.0"/>
<text x="30.80" y="548.32" font-size="8.2" text-anchor="end" textLength="4.3" lengthAdjust="spacingAndGlyphs">0</text>
<line x1="33.00" y1="526.50" x2="36.20" y2="526.50" stroke="#231f20" stroke-width="1.0"/>
<text x="30.80" y="529.22" font-size="8.2" text-anchor="end" textLength="8.6" lengthAdjust="spacingAndGlyphs">20</text>
<line x1="33.00" y1="507.40" x2="36.20" y2="507.40" stroke="#231f20" stroke-width="1.0"/>
<text x="30.80" y="510.12" font-size="8.2" text-anchor="end" textLength="8.6" lengthAdjust="spacingAndGlyphs">40</text>
<line x1="33.00" y1="488.30" x2="36.20" y2="488.30" stroke="#231f20" stroke-width="1.0"/>
<text x="30.80" y="491.02" font-size="8.2" text-anchor="end" textLength="8.6" lengthAdjust="spacingAndGlyphs">60</text>
<line x1="33.00" y1="469.20" x2="36.20" y2="469.20" stroke="#231f20" stroke-width="1.0"/>
<text x="30.80" y="471.92" font-size="8.2" text-anchor="end" textLength="8.6" lengthAdjust="spacingAndGlyphs">80</text>
<line x1="35.60" y1="545.60" x2="86.30" y2="545.60" stroke="#231f20" stroke-width="1.45"/>
<line x1="50.80" y1="545.60" x2="50.80" y2="548.60" stroke="#231f20" stroke-width="1.0"/>
<line x1="72.40" y1="545.60" x2="72.40" y2="548.60" stroke="#231f20" stroke-width="1.0"/>
<text x="15.80" y="506.10" font-size="10.0" text-anchor="middle" textLength="78.2" lengthAdjust="spacingAndGlyphs" transform="rotate(-90 15.80 506.10)">Normalized read counts</text>
<text x="44.50" y="466.30" font-size="8.9" textLength="33.50" lengthAdjust="spacingAndGlyphs"><tspan font-style="italic">P</tspan>=0.0017</text>
<line x1="50.50" y1="469.00" x2="71.70" y2="469.00" stroke="#4d4d4d" stroke-width="1.3"/>
<text x="50.80" y="558.00" font-size="8.2" text-anchor="middle">PV</text>
<text x="72.40" y="558.00" font-size="8.2" text-anchor="middle">M6/7</text>
<line x1="156.65" y1="537.40" x2="156.65" y2="540.00" stroke="#231f20" stroke-width="1.1"/>
<line x1="153.00" y1="537.40" x2="160.00" y2="537.40" stroke="#231f20" stroke-width="1.2"/>
<rect x="149.10" y="540.00" width="15.10" height="5.60" fill="#154e80"/>
<line x1="178.60" y1="480.50" x2="178.60" y2="506.00" stroke="#231f20" stroke-width="1.1"/>
<line x1="174.80" y1="480.50" x2="182.30" y2="480.50" stroke="#231f20" stroke-width="1.2"/>
<rect x="171.30" y="506.00" width="14.60" height="39.60" fill="#c41230"/>
<line x1="142.10" y1="465.60" x2="142.10" y2="546.20" stroke="#231f20" stroke-width="1.3"/>
<line x1="138.90" y1="545.60" x2="142.10" y2="545.60" stroke="#231f20" stroke-width="1.0"/>
<text x="136.70" y="548.32" font-size="8.2" text-anchor="end" textLength="4.3" lengthAdjust="spacingAndGlyphs">0</text>
<line x1="138.90" y1="520.13" x2="142.10" y2="520.13" stroke="#231f20" stroke-width="1.0"/>
<text x="136.70" y="522.85" font-size="8.2" text-anchor="end" textLength="12.9" lengthAdjust="spacingAndGlyphs">500</text>
<line x1="138.90" y1="494.67" x2="142.10" y2="494.67" stroke="#231f20" stroke-width="1.0"/>
<text x="136.70" y="497.39" font-size="8.2" text-anchor="end" textLength="17.2" lengthAdjust="spacingAndGlyphs">1000</text>
<line x1="138.90" y1="469.20" x2="142.10" y2="469.20" stroke="#231f20" stroke-width="1.0"/>
<text x="136.70" y="471.92" font-size="8.2" text-anchor="end" textLength="17.2" lengthAdjust="spacingAndGlyphs">1500</text>
<line x1="141.50" y1="545.60" x2="192.50" y2="545.60" stroke="#231f20" stroke-width="1.45"/>
<line x1="156.60" y1="545.60" x2="156.60" y2="548.60" stroke="#231f20" stroke-width="1.0"/>
<line x1="178.60" y1="545.60" x2="178.60" y2="548.60" stroke="#231f20" stroke-width="1.0"/>
<text x="113.60" y="506.10" font-size="10.0" text-anchor="middle" textLength="78.2" lengthAdjust="spacingAndGlyphs" transform="rotate(-90 113.60 506.10)">Normalized read counts</text>
<text x="152.00" y="466.30" font-size="8.9" textLength="28.80" lengthAdjust="spacingAndGlyphs"><tspan font-style="italic">P</tspan>&lt;0.001</text>
<line x1="156.40" y1="469.00" x2="177.50" y2="469.00" stroke="#4d4d4d" stroke-width="1.3"/>
<text x="156.60" y="558.00" font-size="8.2" text-anchor="middle">PV</text>
<text x="178.60" y="558.00" font-size="8.2" text-anchor="middle">M6/7</text>
<line x1="260.90" y1="520.80" x2="260.90" y2="526.30" stroke="#231f20" stroke-width="1.1"/>
<line x1="258.00" y1="520.80" x2="264.60" y2="520.80" stroke="#231f20" stroke-width="1.2"/>
<rect x="253.60" y="526.30" width="14.60" height="19.30" fill="#154e80"/>
<line x1="282.45" y1="476.10" x2="282.45" y2="492.00" stroke="#231f20" stroke-width="1.1"/>
<line x1="278.60" y1="476.10" x2="286.80" y2="476.10" stroke="#231f20" stroke-width="1.2"/>
<rect x="275.30" y="492.00" width="14.30" height="53.60" fill="#c41230"/>
<line x1="246.50" y1="465.60" x2="246.50" y2="546.20" stroke="#231f20" stroke-width="1.3"/>
<line x1="243.30" y1="545.60" x2="246.50" y2="545.60" stroke="#231f20" stroke-width="1.0"/>
<text x="241.10" y="548.32" font-size="8.2" text-anchor="end" textLength="4.3" lengthAdjust="spacingAndGlyphs">0</text>
<line x1="243.30" y1="520.13" x2="246.50" y2="520.13" stroke="#231f20" stroke-width="1.0"/>
<text x="241.10" y="522.85" font-size="8.2" text-anchor="end" textLength="12.9" lengthAdjust="spacingAndGlyphs">500</text>
<line x1="243.30" y1="494.67" x2="246.50" y2="494.67" stroke="#231f20" stroke-width="1.0"/>
<text x="241.10" y="497.39" font-size="8.2" text-anchor="end" textLength="17.2" lengthAdjust="spacingAndGlyphs">1000</text>
<line x1="243.30" y1="469.20" x2="246.50" y2="469.20" stroke="#231f20" stroke-width="1.0"/>
<text x="241.10" y="471.92" font-size="8.2" text-anchor="end" textLength="17.2" lengthAdjust="spacingAndGlyphs">1500</text>
<line x1="245.90" y1="545.60" x2="297.40" y2="545.60" stroke="#231f20" stroke-width="1.45"/>
<line x1="260.90" y1="545.60" x2="260.90" y2="548.60" stroke="#231f20" stroke-width="1.0"/>
<line x1="282.40" y1="545.60" x2="282.40" y2="548.60" stroke="#231f20" stroke-width="1.0"/>
<text x="218.60" y="506.10" font-size="10.0" text-anchor="middle" textLength="78.2" lengthAdjust="spacingAndGlyphs" transform="rotate(-90 218.60 506.10)">Normalized read counts</text>
<text x="257.10" y="466.30" font-size="8.9" textLength="28.10" lengthAdjust="spacingAndGlyphs"><tspan font-style="italic">P</tspan>&lt;0.001</text>
<line x1="259.80" y1="469.00" x2="283.70" y2="469.00" stroke="#4d4d4d" stroke-width="1.3"/>
<text x="260.90" y="558.00" font-size="8.2" text-anchor="middle">PV</text>
<text x="282.40" y="558.00" font-size="8.2" text-anchor="middle">M6/7</text>
<line x1="364.50" y1="541.80" x2="364.50" y2="542.90" stroke="#231f20" stroke-width="1.1"/>
<line x1="361.00" y1="541.80" x2="368.00" y2="541.80" stroke="#231f20" stroke-width="1.2"/>
<rect x="357.10" y="542.90" width="14.80" height="2.70" fill="#154e80"/>
<line x1="386.30" y1="493.80" x2="386.30" y2="520.10" stroke="#231f20" stroke-width="1.1"/>
<line x1="383.00" y1="493.80" x2="389.60" y2="493.80" stroke="#231f20" stroke-width="1.2"/>
<rect x="379.00" y="520.10" width="14.60" height="25.50" fill="#c41230"/>
<line x1="349.80" y1="465.60" x2="349.80" y2="546.20" stroke="#231f20" stroke-width="1.3"/>
<line x1="346.60" y1="545.60" x2="349.80" y2="545.60" stroke="#231f20" stroke-width="1.0"/>
<text x="344.40" y="548.32" font-size="8.2" text-anchor="end" textLength="4.3" lengthAdjust="spacingAndGlyphs">0</text>
<line x1="346.60" y1="520.13" x2="349.80" y2="520.13" stroke="#231f20" stroke-width="1.0"/>
<text x="344.40" y="522.85" font-size="8.2" text-anchor="end" textLength="12.9" lengthAdjust="spacingAndGlyphs">500</text>
<line x1="346.60" y1="494.67" x2="349.80" y2="494.67" stroke="#231f20" stroke-width="1.0"/>
<text x="344.40" y="497.39" font-size="8.2" text-anchor="end" textLength="17.2" lengthAdjust="spacingAndGlyphs">1000</text>
<line x1="346.60" y1="469.20" x2="349.80" y2="469.20" stroke="#231f20" stroke-width="1.0"/>
<text x="344.40" y="471.92" font-size="8.2" text-anchor="end" textLength="17.2" lengthAdjust="spacingAndGlyphs">1500</text>
<line x1="349.20" y1="545.60" x2="400.70" y2="545.60" stroke="#231f20" stroke-width="1.45"/>
<line x1="364.50" y1="545.60" x2="364.50" y2="548.60" stroke="#231f20" stroke-width="1.0"/>
<line x1="386.30" y1="545.60" x2="386.30" y2="548.60" stroke="#231f20" stroke-width="1.0"/>
<text x="322.00" y="506.10" font-size="10.0" text-anchor="middle" textLength="78.2" lengthAdjust="spacingAndGlyphs" transform="rotate(-90 322.00 506.10)">Normalized read counts</text>
<text x="360.20" y="466.30" font-size="8.9" textLength="28.80" lengthAdjust="spacingAndGlyphs"><tspan font-style="italic">P</tspan>&lt;0.001</text>
<line x1="364.20" y1="469.00" x2="385.20" y2="469.00" stroke="#4d4d4d" stroke-width="1.3"/>
<text x="364.50" y="558.00" font-size="8.2" text-anchor="middle">PV</text>
<text x="386.30" y="558.00" font-size="8.2" text-anchor="middle">M6/7</text>
<line x1="471.20" y1="523.70" x2="471.20" y2="527.90" stroke="#231f20" stroke-width="1.1"/>
<line x1="468.00" y1="523.70" x2="474.60" y2="523.70" stroke="#231f20" stroke-width="1.2"/>
<rect x="463.80" y="527.90" width="14.80" height="17.70" fill="#154e80"/>
<line x1="493.00" y1="479.80" x2="493.00" y2="486.90" stroke="#231f20" stroke-width="1.1"/>
<line x1="490.10" y1="479.80" x2="496.30" y2="479.80" stroke="#231f20" stroke-width="1.2"/>
<rect x="485.70" y="486.90" width="14.60" height="58.70" fill="#c41230"/>
<line x1="456.50" y1="465.60" x2="456.50" y2="546.20" stroke="#231f20" stroke-width="1.3"/>
<line x1="453.30" y1="545.60" x2="456.50" y2="545.60" stroke="#231f20" stroke-width="1.0"/>
<text x="451.10" y="548.32" font-size="8.2" text-anchor="end" textLength="4.3" lengthAdjust="spacingAndGlyphs">0</text>
<line x1="453.30" y1="526.50" x2="456.50" y2="526.50" stroke="#231f20" stroke-width="1.0"/>
<text x="451.10" y="529.22" font-size="8.2" text-anchor="end" textLength="12.9" lengthAdjust="spacingAndGlyphs">200</text>
<line x1="453.30" y1="507.40" x2="456.50" y2="507.40" stroke="#231f20" stroke-width="1.0"/>
<text x="451.10" y="510.12" font-size="8.2" text-anchor="end" textLength="12.9" lengthAdjust="spacingAndGlyphs">400</text>
<line x1="453.30" y1="488.30" x2="456.50" y2="488.30" stroke="#231f20" stroke-width="1.0"/>
<text x="451.10" y="491.02" font-size="8.2" text-anchor="end" textLength="12.9" lengthAdjust="spacingAndGlyphs">600</text>
<line x1="453.30" y1="469.20" x2="456.50" y2="469.20" stroke="#231f20" stroke-width="1.0"/>
<text x="451.10" y="471.92" font-size="8.2" text-anchor="end" textLength="12.9" lengthAdjust="spacingAndGlyphs">800</text>
<line x1="455.90" y1="545.60" x2="507.80" y2="545.60" stroke="#231f20" stroke-width="1.45"/>
<line x1="471.20" y1="545.60" x2="471.20" y2="548.60" stroke="#231f20" stroke-width="1.0"/>
<line x1="493.00" y1="545.60" x2="493.00" y2="548.60" stroke="#231f20" stroke-width="1.0"/>
<text x="432.40" y="506.10" font-size="10.0" text-anchor="middle" textLength="78.2" lengthAdjust="spacingAndGlyphs" transform="rotate(-90 432.40 506.10)">Normalized read counts</text>
<text x="467.10" y="466.30" font-size="8.9" textLength="28.80" lengthAdjust="spacingAndGlyphs"><tspan font-style="italic">P</tspan>&lt;0.001</text>
<line x1="468.70" y1="469.00" x2="492.30" y2="469.00" stroke="#4d4d4d" stroke-width="1.3"/>
<text x="471.20" y="558.00" font-size="8.2" text-anchor="middle">PV</text>
<text x="493.00" y="558.00" font-size="8.2" text-anchor="middle">M6/7</text>
<rect x="0.5" y="0.5" width="519" height="564" fill="none" stroke="#000" stroke-width="1"/>
</svg>
</body></html>
